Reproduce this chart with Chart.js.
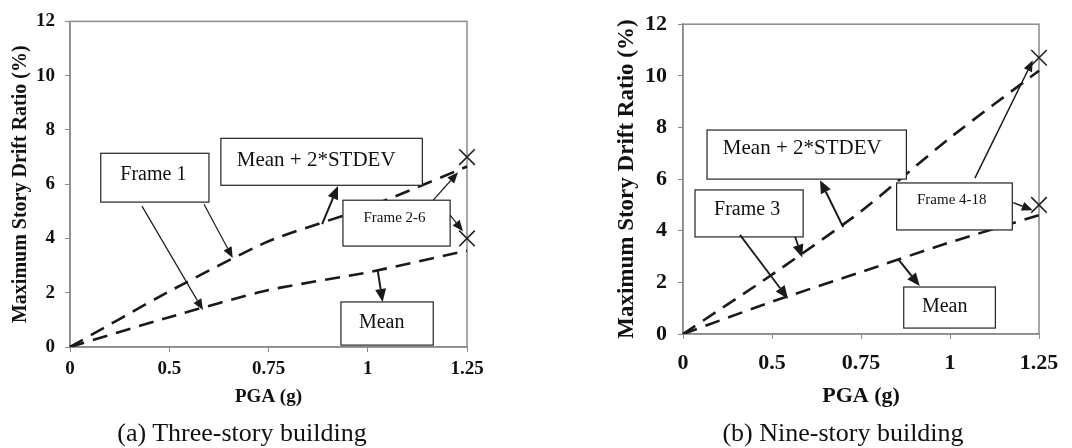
<!DOCTYPE html>
<html>
<head>
<meta charset="utf-8">
<script src="https://cdn.jsdelivr.net/npm/chart.js@4"></script>
<style>
  html, body { margin: 0; padding: 0; background: #fff; }
  #wrap { position: relative; width: 1072px; height: 448px; overflow: hidden; }
  canvas { position: absolute; top: 0; }
  #threeStory { left: 0; }
  #nineStory { left: 536px; }
  .cap {
    position: absolute; white-space: nowrap; line-height: 1; color: #111;
    font-family: "Liberation Serif", "Times New Roman", serif; font-size: 26px;
    transform: translateX(-50%);
  }
</style>
</head>
<body>
<div id="wrap">
  <canvas id="threeStory" width="536" height="448"></canvas>
  <canvas id="nineStory" width="536" height="448"></canvas>
  <div class="cap" style="left:242px; top:420px;">(a) Three-story building</div>
  <div class="cap" style="left:843px; top:420px;">(b) Nine-story building</div>
</div>
<script>
// PGA categories along the x axis
const pgaLabels = ['0', '0.5', '0.75', '1', '1.25'];
const driftTicks = [0, 2, 4, 6, 8, 10, 12];

// Three-story building: maximum story drift ratio (%)
const threeMean = [0, 1.1, 2.1, 2.75, 3.55];
const threeMeanPlus2Sd = [0, 2.05, 3.9, 5.15, 6.65];
const threeFrameMean = [null, null, null, null, 4.0];      // Frame 2-6
const threeFrameUpper = [null, null, null, null, 7.0];     // Frame 2-6

// Nine-story building: maximum story drift ratio (%)
const nineMean = [0, 1.25, 2.4, 3.55, 4.6];
const nineMeanPlus2Sd = [0, 2.3, 4.75, 7.6, 10.2];
const nineFrameMean = [null, null, null, null, 5.0];       // Frame 4-18
const nineFrameUpper = [null, null, null, null, 10.7];     // Frame 4-18

const SERIF = '"Liberation Serif", "Times New Roman", serif';
const AXIS_GREY = '#8a8a8a';
const INK = '#1a1a1a';

// frame drawn around the plotting area
const plotFrame = {
  id: 'plotFrame',
  beforeDatasetsDraw(chart) {
    const { ctx, chartArea: a } = chart;
    ctx.save();
    ctx.strokeStyle = AXIS_GREY;
    ctx.lineWidth = 1.5;
    ctx.strokeRect(a.left, a.top, a.right - a.left, a.bottom - a.top);
    ctx.restore();
  }
};

function drawArrow(ctx, x0, y0, x1, y1, w) {
  const ang = Math.atan2(y1 - y0, x1 - x0);
  const len = w > 1.6 ? 13 : 11, half = w > 1.6 ? 5.5 : 4.5;
  const bx = x1 - len * Math.cos(ang), by = y1 - len * Math.sin(ang);
  ctx.strokeStyle = INK;
  ctx.fillStyle = INK;
  ctx.lineWidth = w;
  ctx.beginPath();
  ctx.moveTo(x0, y0);
  ctx.lineTo(bx, by);
  ctx.stroke();
  ctx.beginPath();
  ctx.moveTo(x1, y1);
  ctx.lineTo(bx + half * Math.sin(ang), by - half * Math.cos(ang));
  ctx.lineTo(bx - half * Math.sin(ang), by + half * Math.cos(ang));
  ctx.closePath();
  ctx.fill();
}

// labelled boxes and leader arrows, placed in axis units
const callouts = {
  id: 'callouts',
  afterDatasetsDraw(chart, args, opts) {
    const { ctx, scales: { x, y } } = chart;
    const px = v => x.getPixelForValue(v);
    const py = v => y.getPixelForValue(v);
    ctx.save();
    (opts.boxes || []).forEach(b => {
      const l = px(b.x[0]), r = px(b.x[1]), t = py(b.y[0]), btm = py(b.y[1]);
      ctx.fillStyle = '#fff';
      ctx.fillRect(l, t, r - l, btm - t);
      ctx.strokeStyle = '#222';
      ctx.lineWidth = 1.2;
      ctx.strokeRect(l, t, r - l, btm - t);
      ctx.fillStyle = '#111';
      ctx.font = b.size + 'px ' + SERIF;
      ctx.textAlign = 'center';
      ctx.textBaseline = 'middle';
      ctx.fillText(b.text, px(b.at[0]), py(b.at[1]));
    });
    (opts.arrows || []).forEach(a => {
      drawArrow(ctx, px(a.from[0]), py(a.from[1]), px(a.to[0]), py(a.to[1]), a.w);
    });
    ctx.restore();
  }
};

function dashed(data) {
  return {
    data, borderColor: INK, borderWidth: 2.6, borderDash: [15, 9],
    pointRadius: 0, tension: 0.2, fill: false
  };
}
function marker(data) {
  return {
    data, showLine: false, pointStyle: 'crossRot', pointRadius: 11, pointHoverRadius: 11,
    pointBorderColor: '#222', pointBorderWidth: 1.6, borderColor: '#222', clip: false
  };
}

function panel(id, p) {
  return new Chart(document.getElementById(id), {
    type: 'line',
    data: {
      labels: pgaLabels,
      datasets: [dashed(p.upper), dashed(p.mean), marker(p.markUpper), marker(p.markMean)]
    },
    options: {
      responsive: false,
      animation: false,
      events: [],
      layout: { padding: p.padding },
      plugins: {
        legend: { display: false },
        tooltip: { enabled: false },
        callouts: { boxes: p.boxes, arrows: p.arrows }
      },
      scales: {
        x: {
          type: 'category',
          offset: false,
          afterFit: s => { s.height = p.xHeight; },
          border: { color: AXIS_GREY, width: 1.5 },
          grid: { drawOnChartArea: false, drawTicks: true, tickLength: 5, color: AXIS_GREY },
          ticks: { color: '#111', padding: p.xTickPad, maxRotation: 0, autoSkip: false,
                   font: { family: SERIF, size: p.tickSize, weight: 'bold' } },
          title: { display: true, text: 'PGA (g)', color: '#111',
                   padding: { top: 0, bottom: p.xTitlePad },
                   font: { family: SERIF, size: p.xTitleSize, weight: 'bold' } }
        },
        y: {
          min: 0, max: 12,
          afterFit: s => { s.width = p.yWidth; },
          afterBuildTicks: s => { s.ticks = driftTicks.map(v => ({ value: v })); },
          border: { color: AXIS_GREY, width: 1.5 },
          grid: { drawOnChartArea: false, drawTicks: true, tickLength: 5, color: AXIS_GREY },
          ticks: { color: '#111', padding: p.yTickPad,
                   font: { family: SERIF, size: p.tickSize, weight: 'bold' } },
          title: { display: true, text: 'Maximum Story Drift Ratio (%)', color: '#111',
                   padding: { top: p.yTitlePad, bottom: 0 },
                   font: { family: SERIF, size: p.yTitleSize, weight: 'bold' } }
        }
      }
    },
    plugins: [plotFrame, callouts]
  });
}

panel('threeStory', {
  upper: threeMeanPlus2Sd, mean: threeMean,
  markUpper: threeFrameUpper, markMean: threeFrameMean,
  padding: { top: 21, right: 69, bottom: 0, left: 0 },
  xHeight: 101, yWidth: 70,
  tickSize: 19, xTickPad: 6, yTickPad: 10,
  xTitleSize: 19, xTitlePad: 40, yTitleSize: 20, yTitlePad: 9,
  boxes: [
    { text: 'Frame 1', x: [0.31, 1.40], y: [7.14, 5.34], at: [0.84, 6.33], size: 20 },
    { text: 'Mean + 2*STDEV', x: [1.52, 3.55], y: [7.69, 5.96], at: [2.48, 6.88], size: 21 },
    { text: 'Frame 2-6', x: [2.75, 3.83], y: [5.41, 3.72], at: [3.27, 4.75], size: 15 },
    { text: 'Mean', x: [2.73, 3.66], y: [1.66, 0.07], at: [3.14, 0.88], size: 20 }
  ],
  arrows: [
    { from: [0.725, 5.19], to: [1.34, 1.36], w: 1.2 },
    { from: [1.35, 5.26], to: [1.64, 3.28], w: 1.2 },
    { from: [2.54, 4.53], to: [2.70, 5.93], w: 2 },
    { from: [3.66, 5.41], to: [3.91, 6.44], w: 1.2 },
    { from: [3.83, 4.86], to: [3.96, 4.27], w: 1.2 },
    { from: [3.10, 2.83], to: [3.15, 1.66], w: 2 }
  ]
});

panel('nineStory', {
  upper: nineMeanPlus2Sd, mean: nineMean,
  markUpper: nineFrameUpper, markMean: nineFrameMean,
  padding: { top: 18, right: 33, bottom: 0, left: 0 },
  xHeight: 114, yWidth: 147,
  tickSize: 22, xTickPad: 11, yTickPad: 11,
  xTitleSize: 22, xTitlePad: 38, yTitleSize: 23, yTitlePad: 77,
  boxes: [
    { text: 'Mean + 2*STDEV', x: [0.27, 2.51], y: [7.90, 6.0], at: [1.34, 7.18], size: 21 },
    { text: 'Frame 3', x: [0.135, 1.35], y: [5.58, 3.76], at: [0.72, 4.82], size: 20 },
    { text: 'Frame 4-18', x: [2.40, 3.70], y: [5.85, 4.03], at: [3.02, 5.17], size: 15 },
    { text: 'Mean', x: [2.48, 3.51], y: [1.82, 0.23], at: [2.94, 1.06], size: 20 }
  ],
  arrows: [
    { from: [0.64, 3.84], to: [1.18, 1.37], w: 1.8 },
    { from: [1.26, 3.76], to: [1.34, 2.96], w: 1.8 },
    { from: [1.80, 4.14], to: [1.54, 5.96], w: 2 },
    { from: [3.28, 6.04], to: [3.93, 10.6], w: 1.5 },
    { from: [3.71, 5.09], to: [3.93, 4.79], w: 1.5 },
    { from: [2.42, 2.89], to: [2.66, 1.86], w: 2 }
  ]
});
</script>
</body>
</html>
